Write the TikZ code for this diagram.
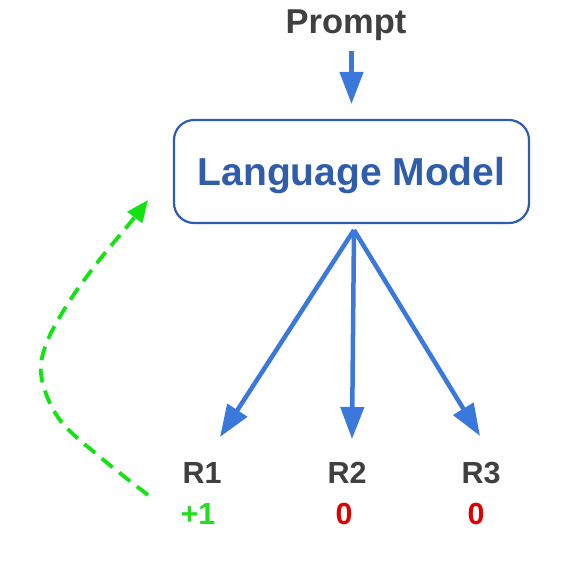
\documentclass[tikz,border=0pt]{standalone}
\usepackage{fontspec}
\setmainfont{Liberation Sans}
\usetikzlibrary{arrows.meta}
\definecolor{txtgray}{HTML}{404040}
\definecolor{boxblue}{HTML}{2F5DAA}
\definecolor{arrblue}{HTML}{3A78DC}
\definecolor{rewgreen}{HTML}{22DD22}
\definecolor{loopgreen}{HTML}{11E411}
\definecolor{rewred}{HTML}{E00000}
\begin{document}
\begin{tikzpicture}[x=1pt,y=-1pt,
  lbl/.style={font=\bfseries\fontsize{30.5}{30}\selectfont, text=txtgray, inner sep=0pt, anchor=base},
  barrow/.style={draw=arrblue, line width=4.5pt, -{Triangle[length=32pt,width=23pt]}},
  garrow/.style={draw=loopgreen, line width=3.8pt, dash pattern=on 14pt off 8.5pt, -{Triangle[length=22pt,width=18pt]}},
  lmbox/.style={draw=boxblue, line width=2.2pt, rounded corners=20pt, minimum width=355pt, minimum height=103pt,
    text=boxblue, font=\bfseries\fontsize{39}{40}\selectfont, text depth=0pt, inner sep=0pt}]
\useasboundingbox (0,0) rectangle (587,566);
\fill[white] (0,0) rectangle (587,566);

\node[lbl, font=\bfseries\fontsize{34.5}{34}\selectfont] (prompt) at (346,33) {Prompt};
\node[lmbox] (lm) at (351.5,171.5) {Language Model};

\node[lbl] (r1) at (202,483) {R1};
\node[lbl] (r2) at (347,483) {R2};
\node[lbl] (r3) at (481,483) {R3};
\node[lbl, text=rewgreen] (v1) at (198,524) {+1};
\node[lbl, text=rewred] (v2) at (344,524) {0};
\node[lbl, text=rewred] (v3) at (476,524) {0};

\coordinate (fork) at (354,230);
\coordinate (t1) at (220,437);
\coordinate (t2) at (352,439);
\coordinate (t3) at (480,436);
\coordinate (gs) at (148,495);
\coordinate (ge) at (148,200);

\draw[barrow, shorten <=11pt, shorten >=15pt] (lm.north |- prompt.south) -- (lm.north);
\draw[barrow] (fork) -- (t1);
\draw[barrow] (fork) -- (t2);
\draw[barrow] (fork) -- (t3);

\draw[garrow] plot[smooth, tension=0.6] coordinates {(gs) (100,457) (60,420) (42,380) (45,347) (67,305) (97,263) (130,223) (ge)};
\end{tikzpicture}
\end{document}
